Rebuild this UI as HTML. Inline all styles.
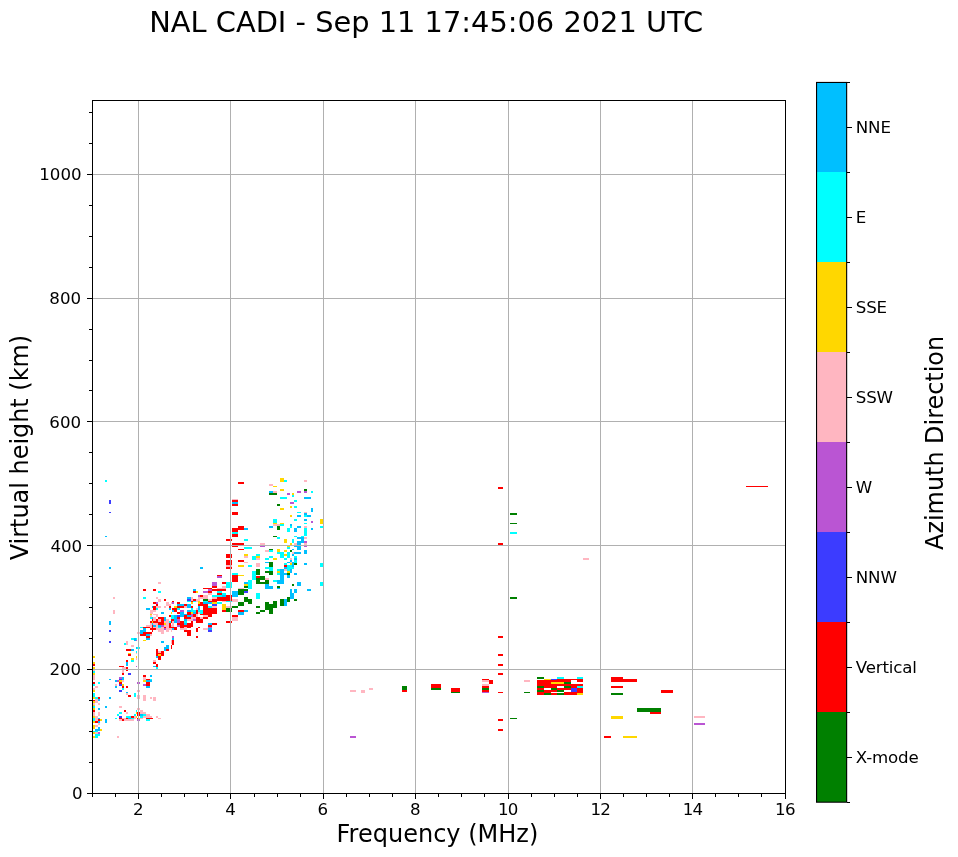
<!DOCTYPE html>
<html lang="en"><head><meta charset="utf-8"><title>NAL CADI - Sep 11 17:45:06 2021 UTC</title>
<style>html,body{margin:0;padding:0;background:#fff}body{width:958px;height:857px;overflow:hidden}svg{display:block}text{font-family:"DejaVu Sans","Liberation Sans",sans-serif;fill:#000}.t{font-size:16.67px}.l{font-size:24px}.h{font-size:28.87px}</style></head><body>
<svg width="958" height="857" viewBox="0 0 958 857">
<rect width="958" height="857" fill="#fff"/>
<g shape-rendering="crispEdges">
<rect x="238" y="482" width="6" height="2" fill="#ff0000"/>
<rect x="280" y="478" width="4" height="4" fill="#ffd700"/>
<rect x="284" y="480" width="3" height="2" fill="#00ffff"/>
<rect x="304" y="480" width="3" height="2" fill="#ffb6c1"/>
<rect x="269" y="484" width="4" height="2" fill="#ffb6c1"/>
<rect x="273" y="486" width="4" height="1" fill="#ffd700"/>
<rect x="105" y="480" width="2" height="2" fill="#00ffff"/>
<rect x="109" y="500" width="2" height="4" fill="#3c3cff"/>
<rect x="109" y="512" width="2" height="1" fill="#3c3cff"/>
<rect x="105" y="536" width="2" height="1" fill="#00bfff"/>
<rect x="232" y="499" width="6" height="1" fill="#ffb6c1"/>
<rect x="232" y="500" width="6" height="2" fill="#ff0000"/>
<rect x="232" y="502" width="6" height="2" fill="#00bfff"/>
<rect x="232" y="504" width="6" height="2" fill="#ff0000"/>
<rect x="232" y="512" width="6" height="3" fill="#ff0000"/>
<rect x="238" y="526" width="6" height="4" fill="#ff0000"/>
<rect x="232" y="528" width="6" height="4" fill="#ff0000"/>
<rect x="244" y="528" width="4" height="2" fill="#00bfff"/>
<rect x="232" y="532" width="6" height="2" fill="#00ffff"/>
<rect x="232" y="534" width="6" height="3" fill="#ff0000"/>
<rect x="226" y="539" width="6" height="2" fill="#ff0000"/>
<rect x="244" y="539" width="4" height="2" fill="#00ffff"/>
<rect x="269" y="491" width="1" height="2" fill="#00bfff"/>
<rect x="269" y="493" width="1" height="2" fill="#008000"/>
<rect x="269" y="526" width="1" height="2" fill="#00bfff"/>
<rect x="280" y="489" width="4" height="2" fill="#ffd700"/>
<rect x="304" y="489" width="3" height="2" fill="#008000"/>
<rect x="270" y="491" width="3" height="2" fill="#00bfff"/>
<rect x="273" y="491" width="4" height="2" fill="#ffb6c1"/>
<rect x="270" y="493" width="7" height="2" fill="#008000"/>
<rect x="297" y="491" width="4" height="2" fill="#ba55d3"/>
<rect x="304" y="491" width="3" height="2" fill="#ba55d3"/>
<rect x="311" y="491" width="2" height="2" fill="#00ffff"/>
<rect x="287" y="493" width="3" height="2" fill="#ba55d3"/>
<rect x="292" y="493" width="2" height="2" fill="#ffd700"/>
<rect x="292" y="495" width="2" height="2" fill="#00ffff"/>
<rect x="280" y="497" width="7" height="2" fill="#00ffff"/>
<rect x="304" y="497" width="7" height="2" fill="#00bfff"/>
<rect x="294" y="500" width="3" height="2" fill="#00ffff"/>
<rect x="290" y="502" width="4" height="2" fill="#ba55d3"/>
<rect x="277" y="504" width="3" height="2" fill="#008000"/>
<rect x="290" y="506" width="2" height="2" fill="#ffd700"/>
<rect x="294" y="506" width="3" height="2" fill="#00ffff"/>
<rect x="280" y="508" width="4" height="2" fill="#ffd700"/>
<rect x="311" y="508" width="2" height="4" fill="#00bfff"/>
<rect x="297" y="512" width="4" height="1" fill="#00ffff"/>
<rect x="304" y="512" width="3" height="1" fill="#ffb6c1"/>
<rect x="304" y="513" width="3" height="2" fill="#00bfff"/>
<rect x="290" y="515" width="2" height="2" fill="#ffd700"/>
<rect x="297" y="515" width="4" height="2" fill="#00bfff"/>
<rect x="304" y="515" width="3" height="2" fill="#00ffff"/>
<rect x="307" y="515" width="4" height="2" fill="#00bfff"/>
<rect x="273" y="519" width="4" height="4" fill="#00ffff"/>
<rect x="294" y="519" width="3" height="2" fill="#00ffff"/>
<rect x="304" y="519" width="3" height="2" fill="#00bfff"/>
<rect x="320" y="519" width="3" height="5" fill="#ffd700"/>
<rect x="311" y="521" width="2" height="2" fill="#ba55d3"/>
<rect x="273" y="523" width="4" height="1" fill="#ffd700"/>
<rect x="280" y="523" width="4" height="1" fill="#ffd700"/>
<rect x="304" y="523" width="3" height="1" fill="#00ffff"/>
<rect x="273" y="524" width="7" height="2" fill="#ffb6c1"/>
<rect x="280" y="524" width="4" height="2" fill="#00ffff"/>
<rect x="290" y="524" width="2" height="2" fill="#00bfff"/>
<rect x="270" y="526" width="3" height="2" fill="#00bfff"/>
<rect x="277" y="526" width="3" height="4" fill="#008000"/>
<rect x="290" y="526" width="2" height="2" fill="#00ffff"/>
<rect x="297" y="526" width="4" height="2" fill="#00bfff"/>
<rect x="304" y="526" width="3" height="2" fill="#ffb6c1"/>
<rect x="320" y="526" width="3" height="2" fill="#00ffff"/>
<rect x="287" y="528" width="3" height="4" fill="#00ffff"/>
<rect x="294" y="528" width="3" height="4" fill="#00bfff"/>
<rect x="304" y="528" width="3" height="8" fill="#00ffff"/>
<rect x="311" y="528" width="2" height="2" fill="#00bfff"/>
<rect x="273" y="536" width="4" height="1" fill="#008000"/>
<rect x="294" y="536" width="3" height="1" fill="#00ffff"/>
<rect x="301" y="536" width="3" height="1" fill="#00ffff"/>
<rect x="277" y="537" width="3" height="2" fill="#00ffff"/>
<rect x="297" y="537" width="7" height="2" fill="#00bfff"/>
<rect x="304" y="537" width="3" height="2" fill="#ffb6c1"/>
<rect x="284" y="539" width="3" height="2" fill="#ffd700"/>
<rect x="292" y="539" width="2" height="2" fill="#00ffff"/>
<rect x="301" y="539" width="3" height="2" fill="#00bfff"/>
<rect x="232" y="543" width="12" height="2" fill="#ff0000"/>
<rect x="232" y="546" width="6" height="1" fill="#ff0000"/>
<rect x="238" y="549" width="6" height="1" fill="#ff0000"/>
<rect x="244" y="547" width="8" height="2" fill="#00ffff"/>
<rect x="260" y="543" width="5" height="2" fill="#ffb6c1"/>
<rect x="260" y="546" width="5" height="1" fill="#ba55d3"/>
<rect x="269" y="549" width="1" height="1" fill="#008000"/>
<rect x="265" y="550" width="4" height="2" fill="#ffb6c1"/>
<rect x="269" y="550" width="1" height="2" fill="#00ffff"/>
<rect x="226" y="554" width="6" height="4" fill="#ff0000"/>
<rect x="244" y="554" width="4" height="2" fill="#ffd700"/>
<rect x="244" y="556" width="4" height="2" fill="#ffb6c1"/>
<rect x="256" y="554" width="4" height="2" fill="#00ffff"/>
<rect x="256" y="556" width="4" height="2" fill="#ffd700"/>
<rect x="256" y="558" width="4" height="2" fill="#ffb6c1"/>
<rect x="252" y="556" width="4" height="4" fill="#00ffff"/>
<rect x="269" y="556" width="1" height="2" fill="#00ffff"/>
<rect x="265" y="558" width="4" height="2" fill="#00ffff"/>
<rect x="226" y="560" width="6" height="5" fill="#ff0000"/>
<rect x="226" y="565" width="6" height="2" fill="#ffb6c1"/>
<rect x="226" y="567" width="6" height="2" fill="#ff0000"/>
<rect x="238" y="560" width="6" height="2" fill="#ff0000"/>
<rect x="244" y="562" width="4" height="1" fill="#ffb6c1"/>
<rect x="238" y="565" width="6" height="2" fill="#ffd700"/>
<rect x="248" y="565" width="4" height="2" fill="#00ffff"/>
<rect x="256" y="563" width="4" height="4" fill="#ffb6c1"/>
<rect x="265" y="562" width="4" height="1" fill="#00bfff"/>
<rect x="269" y="562" width="1" height="5" fill="#008000"/>
<rect x="265" y="567" width="4" height="2" fill="#00ffff"/>
<rect x="269" y="567" width="1" height="4" fill="#00ffff"/>
<rect x="265" y="571" width="4" height="2" fill="#008000"/>
<rect x="269" y="571" width="1" height="4" fill="#008000"/>
<rect x="256" y="569" width="4" height="6" fill="#008000"/>
<rect x="252" y="571" width="4" height="9" fill="#00ffff"/>
<rect x="232" y="573" width="6" height="2" fill="#00ffff"/>
<rect x="232" y="575" width="6" height="7" fill="#ff0000"/>
<rect x="238" y="575" width="6" height="1" fill="#ffd700"/>
<rect x="217" y="575" width="5" height="1" fill="#ff0000"/>
<rect x="217" y="576" width="5" height="2" fill="#ba55d3"/>
<rect x="256" y="576" width="4" height="2" fill="#ff0000"/>
<rect x="260" y="576" width="5" height="4" fill="#008000"/>
<rect x="256" y="578" width="4" height="6" fill="#008000"/>
<rect x="260" y="582" width="5" height="2" fill="#008000"/>
<rect x="265" y="578" width="4" height="2" fill="#ffb6c1"/>
<rect x="265" y="580" width="4" height="4" fill="#008000"/>
<rect x="265" y="584" width="4" height="5" fill="#00bfff"/>
<rect x="269" y="586" width="1" height="3" fill="#00bfff"/>
<rect x="248" y="580" width="4" height="9" fill="#00ffff"/>
<rect x="212" y="582" width="5" height="4" fill="#ba55d3"/>
<rect x="222" y="582" width="4" height="2" fill="#ff0000"/>
<rect x="226" y="582" width="6" height="6" fill="#00ffff"/>
<rect x="244" y="582" width="4" height="2" fill="#00bfff"/>
<rect x="244" y="584" width="4" height="2" fill="#ffd700"/>
<rect x="244" y="586" width="4" height="2" fill="#008000"/>
<rect x="212" y="586" width="5" height="2" fill="#ff0000"/>
<rect x="222" y="586" width="4" height="2" fill="#ffb6c1"/>
<rect x="238" y="588" width="6" height="1" fill="#ffb6c1"/>
<rect x="217" y="588" width="9" height="1" fill="#ffb6c1"/>
<rect x="210" y="588" width="2" height="1" fill="#ff0000"/>
<rect x="210" y="589" width="2" height="2" fill="#ba55d3"/>
<rect x="212" y="589" width="14" height="2" fill="#ff0000"/>
<rect x="210" y="591" width="2" height="2" fill="#ff0000"/>
<rect x="217" y="591" width="5" height="2" fill="#00ffff"/>
<rect x="217" y="593" width="5" height="1" fill="#ff0000"/>
<rect x="222" y="593" width="4" height="1" fill="#00ffff"/>
<rect x="210" y="593" width="2" height="1" fill="#ffb6c1"/>
<rect x="238" y="589" width="10" height="2" fill="#008000"/>
<rect x="238" y="591" width="6" height="3" fill="#008000"/>
<rect x="244" y="591" width="4" height="2" fill="#3c3cff"/>
<rect x="232" y="591" width="6" height="3" fill="#00bfff"/>
<rect x="256" y="593" width="4" height="1" fill="#00ffff"/>
<rect x="284" y="541" width="3" height="2" fill="#ffd700"/>
<rect x="292" y="541" width="2" height="2" fill="#00ffff"/>
<rect x="297" y="541" width="3" height="9" fill="#00bfff"/>
<rect x="290" y="543" width="2" height="2" fill="#ffd700"/>
<rect x="294" y="543" width="3" height="2" fill="#ffb6c1"/>
<rect x="294" y="546" width="3" height="1" fill="#00bfff"/>
<rect x="287" y="546" width="3" height="1" fill="#ffd700"/>
<rect x="287" y="547" width="3" height="2" fill="#00ffff"/>
<rect x="292" y="549" width="2" height="1" fill="#00bfff"/>
<rect x="270" y="549" width="3" height="1" fill="#008000"/>
<rect x="270" y="550" width="3" height="2" fill="#00ffff"/>
<rect x="277" y="549" width="3" height="3" fill="#ffd700"/>
<rect x="284" y="550" width="3" height="2" fill="#ffd700"/>
<rect x="290" y="550" width="2" height="2" fill="#008000"/>
<rect x="277" y="552" width="7" height="2" fill="#00ffff"/>
<rect x="280" y="554" width="4" height="4" fill="#00ffff"/>
<rect x="287" y="552" width="3" height="6" fill="#00ffff"/>
<rect x="284" y="554" width="3" height="2" fill="#ffd700"/>
<rect x="292" y="552" width="2" height="2" fill="#ffb6c1"/>
<rect x="294" y="552" width="6" height="2" fill="#00bfff"/>
<rect x="292" y="554" width="2" height="2" fill="#00bfff"/>
<rect x="270" y="556" width="3" height="2" fill="#00ffff"/>
<rect x="273" y="558" width="4" height="2" fill="#ffd700"/>
<rect x="284" y="558" width="3" height="2" fill="#00ffff"/>
<rect x="290" y="558" width="2" height="2" fill="#ffb6c1"/>
<rect x="294" y="556" width="3" height="2" fill="#00ffff"/>
<rect x="294" y="558" width="3" height="2" fill="#00bfff"/>
<rect x="294" y="560" width="3" height="3" fill="#00ffff"/>
<rect x="294" y="563" width="3" height="2" fill="#008000"/>
<rect x="290" y="560" width="2" height="2" fill="#00bfff"/>
<rect x="287" y="562" width="3" height="1" fill="#00bfff"/>
<rect x="290" y="562" width="2" height="1" fill="#ffb6c1"/>
<rect x="290" y="563" width="2" height="2" fill="#ffd700"/>
<rect x="292" y="562" width="2" height="5" fill="#00bfff"/>
<rect x="284" y="563" width="3" height="2" fill="#00ffff"/>
<rect x="284" y="565" width="3" height="2" fill="#ff0000"/>
<rect x="287" y="565" width="5" height="3" fill="#00ffff"/>
<rect x="284" y="567" width="3" height="1" fill="#00bfff"/>
<rect x="270" y="562" width="3" height="5" fill="#008000"/>
<rect x="270" y="567" width="3" height="1" fill="#00ffff"/>
<rect x="300" y="541" width="4" height="2" fill="#00bfff"/>
<rect x="300" y="543" width="1" height="7" fill="#00bfff"/>
<rect x="304" y="541" width="3" height="2" fill="#ba55d3"/>
<rect x="304" y="543" width="3" height="2" fill="#ffb6c1"/>
<rect x="304" y="546" width="3" height="1" fill="#ba55d3"/>
<rect x="304" y="550" width="3" height="4" fill="#00bfff"/>
<rect x="300" y="552" width="1" height="2" fill="#00bfff"/>
<rect x="304" y="563" width="3" height="2" fill="#00bfff"/>
<rect x="320" y="563" width="3" height="4" fill="#00ffff"/>
<rect x="270" y="567" width="3" height="4" fill="#00ffff"/>
<rect x="270" y="571" width="3" height="4" fill="#008000"/>
<rect x="277" y="569" width="3" height="2" fill="#00ffff"/>
<rect x="277" y="571" width="3" height="2" fill="#ffd700"/>
<rect x="277" y="573" width="3" height="2" fill="#00ffff"/>
<rect x="280" y="569" width="4" height="15" fill="#00bfff"/>
<rect x="284" y="567" width="3" height="2" fill="#00bfff"/>
<rect x="284" y="569" width="3" height="2" fill="#ffb6c1"/>
<rect x="284" y="573" width="3" height="2" fill="#00bfff"/>
<rect x="287" y="567" width="7" height="2" fill="#00ffff"/>
<rect x="287" y="569" width="3" height="2" fill="#00ffff"/>
<rect x="287" y="571" width="3" height="2" fill="#ffd700"/>
<rect x="287" y="573" width="3" height="2" fill="#008000"/>
<rect x="287" y="575" width="3" height="3" fill="#00bfff"/>
<rect x="290" y="569" width="2" height="4" fill="#00bfff"/>
<rect x="294" y="573" width="3" height="2" fill="#00bfff"/>
<rect x="273" y="580" width="4" height="2" fill="#00ffff"/>
<rect x="277" y="580" width="3" height="4" fill="#00bfff"/>
<rect x="297" y="582" width="3" height="4" fill="#00bfff"/>
<rect x="292" y="584" width="2" height="2" fill="#008000"/>
<rect x="270" y="586" width="3" height="3" fill="#00bfff"/>
<rect x="277" y="586" width="3" height="2" fill="#008000"/>
<rect x="277" y="588" width="3" height="1" fill="#00bfff"/>
<rect x="290" y="589" width="2" height="5" fill="#00bfff"/>
<rect x="294" y="589" width="3" height="4" fill="#00bfff"/>
<rect x="292" y="593" width="2" height="1" fill="#00bfff"/>
<rect x="300" y="582" width="1" height="4" fill="#00bfff"/>
<rect x="307" y="589" width="4" height="2" fill="#00bfff"/>
<rect x="320" y="582" width="3" height="4" fill="#00ffff"/>
<rect x="109" y="567" width="2" height="2" fill="#00bfff"/>
<rect x="143" y="589" width="3" height="2" fill="#ff0000"/>
<rect x="200" y="567" width="3" height="2" fill="#00bfff"/>
<rect x="158" y="582" width="3" height="2" fill="#ffb6c1"/>
<rect x="153" y="589" width="3" height="2" fill="#ff0000"/>
<rect x="158" y="591" width="3" height="2" fill="#00ffff"/>
<rect x="193" y="589" width="3" height="2" fill="#00bfff"/>
<rect x="193" y="591" width="3" height="2" fill="#ff0000"/>
<rect x="196" y="591" width="2" height="2" fill="#ffd700"/>
<rect x="203" y="588" width="7" height="1" fill="#ff0000"/>
<rect x="208" y="589" width="2" height="2" fill="#ba55d3"/>
<rect x="203" y="591" width="5" height="2" fill="#ba55d3"/>
<rect x="208" y="591" width="2" height="2" fill="#ff0000"/>
<rect x="208" y="593" width="2" height="1" fill="#ffb6c1"/>
<rect x="113" y="597" width="2" height="2" fill="#ffb6c1"/>
<rect x="113" y="610" width="2" height="4" fill="#ffb6c1"/>
<rect x="109" y="621" width="2" height="4" fill="#00bfff"/>
<rect x="109" y="630" width="2" height="2" fill="#3c3cff"/>
<rect x="109" y="641" width="2" height="2" fill="#3c3cff"/>
<rect x="143" y="597" width="3" height="2" fill="#00ffff"/>
<rect x="146" y="608" width="4" height="2" fill="#00bfff"/>
<rect x="146" y="625" width="4" height="2" fill="#ffb6c1"/>
<rect x="140" y="627" width="3" height="1" fill="#00ffff"/>
<rect x="143" y="627" width="7" height="1" fill="#ff0000"/>
<rect x="143" y="628" width="3" height="4" fill="#00bfff"/>
<rect x="140" y="630" width="3" height="4" fill="#00bfff"/>
<rect x="137" y="632" width="3" height="2" fill="#ffb6c1"/>
<rect x="143" y="632" width="7" height="2" fill="#ff0000"/>
<rect x="140" y="634" width="6" height="2" fill="#ff0000"/>
<rect x="146" y="634" width="4" height="2" fill="#00bfff"/>
<rect x="146" y="636" width="4" height="2" fill="#ff0000"/>
<rect x="146" y="638" width="4" height="2" fill="#00bfff"/>
<rect x="143" y="640" width="3" height="1" fill="#ffd700"/>
<rect x="131" y="638" width="3" height="2" fill="#00ffff"/>
<rect x="134" y="638" width="2" height="3" fill="#00bfff"/>
<rect x="136" y="638" width="1" height="2" fill="#00ffff"/>
<rect x="136" y="640" width="1" height="1" fill="#ba55d3"/>
<rect x="126" y="641" width="2" height="4" fill="#ffb6c1"/>
<rect x="124" y="643" width="2" height="2" fill="#00ffff"/>
<rect x="131" y="645" width="3" height="2" fill="#ffb6c1"/>
<rect x="156" y="597" width="2" height="2" fill="#ffb6c1"/>
<rect x="158" y="599" width="3" height="3" fill="#ffb6c1"/>
<rect x="164" y="599" width="2" height="2" fill="#ff0000"/>
<rect x="172" y="601" width="2" height="1" fill="#ff0000"/>
<rect x="172" y="602" width="2" height="2" fill="#ba55d3"/>
<rect x="171" y="602" width="1" height="2" fill="#ffb6c1"/>
<rect x="153" y="602" width="3" height="2" fill="#ff0000"/>
<rect x="156" y="602" width="2" height="2" fill="#ba55d3"/>
<rect x="166" y="602" width="3" height="4" fill="#ffb6c1"/>
<rect x="169" y="604" width="2" height="2" fill="#ffb6c1"/>
<rect x="156" y="604" width="2" height="2" fill="#ff0000"/>
<rect x="177" y="602" width="3" height="2" fill="#ff0000"/>
<rect x="177" y="604" width="3" height="2" fill="#00bfff"/>
<rect x="152" y="606" width="1" height="2" fill="#00bfff"/>
<rect x="153" y="606" width="3" height="4" fill="#ff0000"/>
<rect x="156" y="606" width="5" height="2" fill="#ffb6c1"/>
<rect x="164" y="606" width="2" height="2" fill="#ffb6c1"/>
<rect x="169" y="606" width="2" height="2" fill="#ff0000"/>
<rect x="174" y="606" width="3" height="2" fill="#ffd700"/>
<rect x="177" y="606" width="3" height="2" fill="#ff0000"/>
<rect x="156" y="608" width="2" height="2" fill="#00ffff"/>
<rect x="169" y="608" width="2" height="2" fill="#00bfff"/>
<rect x="172" y="608" width="5" height="2" fill="#ff0000"/>
<rect x="177" y="608" width="3" height="2" fill="#00ffff"/>
<rect x="174" y="610" width="3" height="2" fill="#ff0000"/>
<rect x="172" y="610" width="2" height="2" fill="#00bfff"/>
<rect x="150" y="610" width="3" height="4" fill="#ffb6c1"/>
<rect x="153" y="610" width="3" height="2" fill="#ffb6c1"/>
<rect x="161" y="612" width="3" height="2" fill="#00bfff"/>
<rect x="171" y="612" width="1" height="2" fill="#ffd700"/>
<rect x="177" y="612" width="3" height="2" fill="#ff0000"/>
<rect x="150" y="614" width="2" height="1" fill="#ffd700"/>
<rect x="150" y="615" width="2" height="2" fill="#ffb6c1"/>
<rect x="153" y="614" width="5" height="1" fill="#ffb6c1"/>
<rect x="156" y="615" width="2" height="2" fill="#ffb6c1"/>
<rect x="169" y="615" width="2" height="2" fill="#ff0000"/>
<rect x="171" y="615" width="3" height="4" fill="#00ffff"/>
<rect x="174" y="615" width="3" height="6" fill="#00bfff"/>
<rect x="177" y="615" width="3" height="2" fill="#3c3cff"/>
<rect x="177" y="617" width="3" height="2" fill="#ff0000"/>
<rect x="177" y="619" width="3" height="2" fill="#ba55d3"/>
<rect x="150" y="617" width="2" height="2" fill="#00ffff"/>
<rect x="152" y="617" width="1" height="2" fill="#00bfff"/>
<rect x="153" y="617" width="3" height="4" fill="#ffb6c1"/>
<rect x="152" y="619" width="1" height="2" fill="#ff0000"/>
<rect x="156" y="619" width="2" height="2" fill="#ff0000"/>
<rect x="158" y="617" width="6" height="4" fill="#ff0000"/>
<rect x="158" y="619" width="3" height="2" fill="#ffb6c1"/>
<rect x="164" y="617" width="2" height="4" fill="#00bfff"/>
<rect x="166" y="619" width="3" height="2" fill="#ffb6c1"/>
<rect x="171" y="619" width="3" height="2" fill="#ff0000"/>
<rect x="198" y="595" width="2" height="2" fill="#ba55d3"/>
<rect x="200" y="595" width="3" height="2" fill="#ff0000"/>
<rect x="203" y="595" width="5" height="4" fill="#ffb6c1"/>
<rect x="198" y="597" width="5" height="2" fill="#ffb6c1"/>
<rect x="208" y="594" width="2" height="1" fill="#ffb6c1"/>
<rect x="187" y="597" width="4" height="2" fill="#00bfff"/>
<rect x="187" y="599" width="4" height="2" fill="#3c3cff"/>
<rect x="187" y="601" width="4" height="1" fill="#00ffff"/>
<rect x="191" y="597" width="2" height="4" fill="#ffb6c1"/>
<rect x="191" y="601" width="2" height="1" fill="#ff0000"/>
<rect x="191" y="602" width="2" height="2" fill="#ffd700"/>
<rect x="193" y="599" width="3" height="2" fill="#ff0000"/>
<rect x="193" y="601" width="3" height="1" fill="#00ffff"/>
<rect x="196" y="599" width="2" height="3" fill="#ffb6c1"/>
<rect x="198" y="599" width="2" height="2" fill="#ffb6c1"/>
<rect x="198" y="601" width="2" height="3" fill="#ffd700"/>
<rect x="203" y="599" width="5" height="2" fill="#008000"/>
<rect x="203" y="601" width="5" height="1" fill="#00ffff"/>
<rect x="203" y="602" width="7" height="2" fill="#00bfff"/>
<rect x="208" y="599" width="2" height="2" fill="#ffb6c1"/>
<rect x="208" y="601" width="2" height="1" fill="#ff0000"/>
<rect x="200" y="602" width="3" height="4" fill="#ff0000"/>
<rect x="198" y="604" width="2" height="2" fill="#ff0000"/>
<rect x="203" y="604" width="5" height="11" fill="#ff0000"/>
<rect x="208" y="606" width="2" height="2" fill="#00ffff"/>
<rect x="208" y="608" width="2" height="9" fill="#ff0000"/>
<rect x="203" y="615" width="5" height="2" fill="#ffb6c1"/>
<rect x="203" y="617" width="5" height="2" fill="#ff0000"/>
<rect x="180" y="604" width="4" height="2" fill="#00bfff"/>
<rect x="184" y="604" width="3" height="2" fill="#ff0000"/>
<rect x="187" y="604" width="4" height="4" fill="#00bfff"/>
<rect x="180" y="606" width="4" height="2" fill="#ff0000"/>
<rect x="184" y="606" width="3" height="2" fill="#ffb6c1"/>
<rect x="191" y="606" width="2" height="2" fill="#ff0000"/>
<rect x="198" y="606" width="2" height="4" fill="#00bfff"/>
<rect x="191" y="608" width="2" height="4" fill="#00ffff"/>
<rect x="196" y="608" width="2" height="2" fill="#ffb6c1"/>
<rect x="180" y="610" width="4" height="2" fill="#ba55d3"/>
<rect x="187" y="610" width="4" height="2" fill="#00bfff"/>
<rect x="193" y="610" width="3" height="2" fill="#00ffff"/>
<rect x="196" y="610" width="2" height="4" fill="#ff0000"/>
<rect x="198" y="610" width="5" height="2" fill="#00ffff"/>
<rect x="200" y="612" width="3" height="2" fill="#00ffff"/>
<rect x="198" y="612" width="2" height="2" fill="#ffb6c1"/>
<rect x="180" y="612" width="4" height="5" fill="#00bfff"/>
<rect x="184" y="614" width="3" height="1" fill="#00bfff"/>
<rect x="187" y="612" width="4" height="3" fill="#ff0000"/>
<rect x="191" y="612" width="2" height="2" fill="#ffd700"/>
<rect x="193" y="612" width="3" height="2" fill="#00bfff"/>
<rect x="191" y="614" width="2" height="3" fill="#ba55d3"/>
<rect x="193" y="614" width="3" height="3" fill="#ff0000"/>
<rect x="196" y="614" width="2" height="3" fill="#ffb6c1"/>
<rect x="200" y="614" width="3" height="1" fill="#ff0000"/>
<rect x="184" y="615" width="3" height="4" fill="#ff0000"/>
<rect x="187" y="615" width="4" height="2" fill="#00bfff"/>
<rect x="187" y="617" width="4" height="2" fill="#ff0000"/>
<rect x="191" y="617" width="5" height="2" fill="#ffb6c1"/>
<rect x="196" y="617" width="4" height="4" fill="#ff0000"/>
<rect x="200" y="617" width="3" height="2" fill="#ffb6c1"/>
<rect x="200" y="619" width="3" height="2" fill="#ff0000"/>
<rect x="184" y="619" width="3" height="2" fill="#00bfff"/>
<rect x="187" y="619" width="6" height="2" fill="#ffb6c1"/>
<rect x="193" y="619" width="3" height="2" fill="#ba55d3"/>
<rect x="150" y="621" width="2" height="2" fill="#ff0000"/>
<rect x="152" y="621" width="1" height="2" fill="#ffd700"/>
<rect x="153" y="621" width="5" height="2" fill="#ff0000"/>
<rect x="158" y="621" width="3" height="1" fill="#ffb6c1"/>
<rect x="158" y="622" width="3" height="1" fill="#ff0000"/>
<rect x="161" y="621" width="3" height="2" fill="#ff0000"/>
<rect x="164" y="621" width="5" height="2" fill="#ffb6c1"/>
<rect x="169" y="621" width="2" height="2" fill="#00ffff"/>
<rect x="171" y="620" width="1" height="3" fill="#ff0000"/>
<rect x="172" y="621" width="2" height="2" fill="#ffb6c1"/>
<rect x="174" y="621" width="3" height="2" fill="#00bfff"/>
<rect x="177" y="621" width="3" height="2" fill="#ba55d3"/>
<rect x="150" y="623" width="2" height="5" fill="#ffb6c1"/>
<rect x="152" y="623" width="1" height="2" fill="#00bfff"/>
<rect x="153" y="623" width="5" height="2" fill="#ffb6c1"/>
<rect x="158" y="623" width="6" height="2" fill="#ff0000"/>
<rect x="164" y="623" width="2" height="2" fill="#ffd700"/>
<rect x="166" y="623" width="3" height="2" fill="#ffb6c1"/>
<rect x="169" y="623" width="2" height="5" fill="#ff0000"/>
<rect x="172" y="623" width="2" height="4" fill="#ffb6c1"/>
<rect x="171" y="625" width="1" height="2" fill="#ffb6c1"/>
<rect x="177" y="623" width="3" height="2" fill="#ff0000"/>
<rect x="152" y="625" width="1" height="3" fill="#ff0000"/>
<rect x="153" y="625" width="3" height="2" fill="#00bfff"/>
<rect x="156" y="625" width="2" height="2" fill="#ffb6c1"/>
<rect x="158" y="625" width="3" height="2" fill="#00bfff"/>
<rect x="161" y="625" width="3" height="2" fill="#ba55d3"/>
<rect x="164" y="625" width="5" height="2" fill="#ffb6c1"/>
<rect x="177" y="625" width="3" height="2" fill="#ba55d3"/>
<rect x="153" y="627" width="5" height="1" fill="#ffb6c1"/>
<rect x="158" y="627" width="3" height="1" fill="#00ffff"/>
<rect x="161" y="627" width="3" height="1" fill="#ffb6c1"/>
<rect x="164" y="627" width="2" height="1" fill="#ff0000"/>
<rect x="166" y="627" width="3" height="1" fill="#ffb6c1"/>
<rect x="171" y="627" width="6" height="1" fill="#ff0000"/>
<rect x="150" y="628" width="6" height="2" fill="#ff0000"/>
<rect x="156" y="628" width="8" height="2" fill="#ffb6c1"/>
<rect x="164" y="628" width="2" height="2" fill="#ba55d3"/>
<rect x="166" y="628" width="6" height="2" fill="#ffb6c1"/>
<rect x="172" y="628" width="2" height="2" fill="#00bfff"/>
<rect x="174" y="628" width="3" height="2" fill="#ff0000"/>
<rect x="152" y="630" width="1" height="2" fill="#ff0000"/>
<rect x="158" y="630" width="6" height="2" fill="#ffb6c1"/>
<rect x="166" y="630" width="3" height="2" fill="#ffb6c1"/>
<rect x="171" y="630" width="1" height="2" fill="#ffb6c1"/>
<rect x="150" y="632" width="2" height="2" fill="#ff0000"/>
<rect x="161" y="632" width="3" height="2" fill="#ffb6c1"/>
<rect x="150" y="634" width="2" height="2" fill="#ffb6c1"/>
<rect x="172" y="636" width="2" height="2" fill="#ba55d3"/>
<rect x="172" y="638" width="2" height="2" fill="#00bfff"/>
<rect x="172" y="640" width="2" height="5" fill="#ff0000"/>
<rect x="171" y="640" width="1" height="4" fill="#ffb6c1"/>
<rect x="161" y="641" width="3" height="2" fill="#00bfff"/>
<rect x="166" y="645" width="3" height="2" fill="#00bfff"/>
<rect x="171" y="645" width="1" height="2" fill="#ff0000"/>
<rect x="180" y="621" width="4" height="7" fill="#ff0000"/>
<rect x="184" y="621" width="3" height="2" fill="#00ffff"/>
<rect x="184" y="623" width="3" height="2" fill="#00bfff"/>
<rect x="191" y="621" width="2" height="6" fill="#ff0000"/>
<rect x="187" y="623" width="4" height="5" fill="#ff0000"/>
<rect x="184" y="625" width="3" height="2" fill="#ff0000"/>
<rect x="184" y="627" width="3" height="1" fill="#ffb6c1"/>
<rect x="196" y="621" width="7" height="2" fill="#ff0000"/>
<rect x="208" y="623" width="2" height="2" fill="#00bfff"/>
<rect x="208" y="625" width="2" height="2" fill="#ff0000"/>
<rect x="208" y="627" width="2" height="1" fill="#ba55d3"/>
<rect x="208" y="628" width="2" height="2" fill="#00bfff"/>
<rect x="208" y="630" width="2" height="2" fill="#3c3cff"/>
<rect x="203" y="628" width="5" height="2" fill="#ffb6c1"/>
<rect x="180" y="628" width="7" height="2" fill="#ffb6c1"/>
<rect x="198" y="627" width="2" height="1" fill="#ff0000"/>
<rect x="196" y="628" width="2" height="4" fill="#ff0000"/>
<rect x="184" y="630" width="7" height="2" fill="#ff0000"/>
<rect x="187" y="632" width="4" height="4" fill="#ff0000"/>
<rect x="196" y="636" width="2" height="2" fill="#ff0000"/>
<rect x="210" y="594" width="2" height="1" fill="#ffb6c1"/>
<rect x="217" y="594" width="5" height="1" fill="#ff0000"/>
<rect x="222" y="594" width="4" height="1" fill="#00ffff"/>
<rect x="232" y="594" width="6" height="3" fill="#00bfff"/>
<rect x="238" y="594" width="6" height="1" fill="#008000"/>
<rect x="212" y="595" width="10" height="2" fill="#00ffff"/>
<rect x="222" y="595" width="4" height="2" fill="#00bfff"/>
<rect x="226" y="595" width="6" height="6" fill="#ff0000"/>
<rect x="212" y="597" width="5" height="2" fill="#ffb6c1"/>
<rect x="217" y="597" width="9" height="4" fill="#ff0000"/>
<rect x="210" y="599" width="2" height="2" fill="#ffb6c1"/>
<rect x="212" y="599" width="5" height="3" fill="#ff0000"/>
<rect x="210" y="601" width="2" height="1" fill="#ff0000"/>
<rect x="222" y="601" width="4" height="1" fill="#ffb6c1"/>
<rect x="226" y="601" width="6" height="1" fill="#00ffff"/>
<rect x="232" y="599" width="6" height="3" fill="#ffb6c1"/>
<rect x="244" y="597" width="4" height="5" fill="#008000"/>
<rect x="248" y="599" width="4" height="5" fill="#008000"/>
<rect x="238" y="602" width="6" height="4" fill="#008000"/>
<rect x="256" y="594" width="4" height="5" fill="#00ffff"/>
<rect x="210" y="602" width="2" height="2" fill="#00bfff"/>
<rect x="212" y="602" width="5" height="2" fill="#ffd700"/>
<rect x="217" y="602" width="5" height="2" fill="#00ffff"/>
<rect x="212" y="604" width="5" height="2" fill="#3c3cff"/>
<rect x="222" y="604" width="4" height="6" fill="#ffd700"/>
<rect x="210" y="606" width="2" height="2" fill="#00ffff"/>
<rect x="212" y="606" width="5" height="2" fill="#ffb6c1"/>
<rect x="226" y="606" width="6" height="2" fill="#ffb6c1"/>
<rect x="232" y="606" width="6" height="2" fill="#008000"/>
<rect x="226" y="608" width="6" height="4" fill="#008000"/>
<rect x="210" y="608" width="7" height="6" fill="#ff0000"/>
<rect x="222" y="610" width="4" height="2" fill="#ff0000"/>
<rect x="210" y="614" width="2" height="3" fill="#ff0000"/>
<rect x="238" y="610" width="6" height="2" fill="#ff0000"/>
<rect x="244" y="610" width="4" height="2" fill="#00bfff"/>
<rect x="238" y="612" width="6" height="3" fill="#00bfff"/>
<rect x="232" y="615" width="6" height="2" fill="#ff0000"/>
<rect x="232" y="617" width="6" height="4" fill="#ffb6c1"/>
<rect x="226" y="621" width="6" height="2" fill="#ff0000"/>
<rect x="210" y="623" width="2" height="2" fill="#00bfff"/>
<rect x="212" y="623" width="5" height="2" fill="#ff0000"/>
<rect x="210" y="625" width="2" height="2" fill="#ff0000"/>
<rect x="210" y="627" width="2" height="1" fill="#ba55d3"/>
<rect x="210" y="628" width="2" height="2" fill="#00bfff"/>
<rect x="210" y="630" width="2" height="2" fill="#3c3cff"/>
<rect x="256" y="606" width="4" height="2" fill="#008000"/>
<rect x="256" y="612" width="4" height="2" fill="#008000"/>
<rect x="260" y="610" width="5" height="2" fill="#008000"/>
<rect x="265" y="602" width="4" height="8" fill="#008000"/>
<rect x="269" y="604" width="1" height="10" fill="#008000"/>
<rect x="270" y="604" width="3" height="10" fill="#008000"/>
<rect x="273" y="601" width="4" height="7" fill="#008000"/>
<rect x="280" y="599" width="4" height="7" fill="#008000"/>
<rect x="284" y="599" width="3" height="7" fill="#00bfff"/>
<rect x="287" y="597" width="3" height="5" fill="#008000"/>
<rect x="290" y="594" width="4" height="5" fill="#00bfff"/>
<rect x="294" y="599" width="3" height="2" fill="#008000"/>
<rect x="93" y="656" width="2" height="2" fill="#ffd700"/>
<rect x="93" y="662" width="2" height="2" fill="#ffd700"/>
<rect x="93" y="664" width="2" height="2" fill="#ff0000"/>
<rect x="93" y="667" width="2" height="2" fill="#ffd700"/>
<rect x="93" y="670" width="2" height="1" fill="#ffb6c1"/>
<rect x="93" y="671" width="2" height="2" fill="#00ffff"/>
<rect x="93" y="673" width="2" height="2" fill="#ffd700"/>
<rect x="93" y="675" width="2" height="5" fill="#ffb6c1"/>
<rect x="93" y="682" width="2" height="2" fill="#ff0000"/>
<rect x="93" y="684" width="2" height="2" fill="#00ffff"/>
<rect x="93" y="688" width="2" height="2" fill="#ffb6c1"/>
<rect x="93" y="690" width="2" height="2" fill="#ffd700"/>
<rect x="93" y="693" width="2" height="4" fill="#00ffff"/>
<rect x="93" y="697" width="2" height="2" fill="#ffd700"/>
<rect x="95" y="686" width="3" height="2" fill="#ffb6c1"/>
<rect x="95" y="697" width="3" height="2" fill="#00ffff"/>
<rect x="98" y="697" width="2" height="2" fill="#ff0000"/>
<rect x="95" y="699" width="3" height="1" fill="#ffb6c1"/>
<rect x="98" y="699" width="2" height="1" fill="#00bfff"/>
<rect x="98" y="682" width="2" height="2" fill="#00ffff"/>
<rect x="109" y="679" width="2" height="1" fill="#00bfff"/>
<rect x="109" y="697" width="2" height="2" fill="#00bfff"/>
<rect x="119" y="666" width="5" height="1" fill="#ff0000"/>
<rect x="122" y="667" width="4" height="2" fill="#ffb6c1"/>
<rect x="126" y="667" width="2" height="2" fill="#ff0000"/>
<rect x="126" y="670" width="2" height="1" fill="#ff0000"/>
<rect x="122" y="670" width="2" height="3" fill="#ffb6c1"/>
<rect x="122" y="673" width="2" height="2" fill="#ff0000"/>
<rect x="128" y="673" width="3" height="2" fill="#3c3cff"/>
<rect x="126" y="660" width="2" height="2" fill="#ff0000"/>
<rect x="126" y="662" width="2" height="4" fill="#00bfff"/>
<rect x="126" y="649" width="5" height="2" fill="#ff0000"/>
<rect x="131" y="649" width="3" height="2" fill="#00bfff"/>
<rect x="128" y="653" width="3" height="1" fill="#ffd700"/>
<rect x="128" y="654" width="3" height="2" fill="#ff0000"/>
<rect x="131" y="658" width="3" height="2" fill="#ffd700"/>
<rect x="131" y="660" width="3" height="2" fill="#00ffff"/>
<rect x="136" y="647" width="1" height="2" fill="#00bfff"/>
<rect x="137" y="647" width="1" height="2" fill="#00ffff"/>
<rect x="139" y="647" width="1" height="2" fill="#00ffff"/>
<rect x="136" y="651" width="1" height="2" fill="#00ffff"/>
<rect x="136" y="653" width="1" height="1" fill="#ffb6c1"/>
<rect x="136" y="656" width="1" height="2" fill="#ffd700"/>
<rect x="136" y="658" width="1" height="2" fill="#ffb6c1"/>
<rect x="136" y="666" width="1" height="1" fill="#ba55d3"/>
<rect x="119" y="677" width="3" height="2" fill="#ba55d3"/>
<rect x="122" y="677" width="2" height="3" fill="#00bfff"/>
<rect x="119" y="679" width="3" height="1" fill="#3c3cff"/>
<rect x="115" y="680" width="2" height="2" fill="#00bfff"/>
<rect x="117" y="680" width="2" height="2" fill="#ba55d3"/>
<rect x="119" y="680" width="3" height="2" fill="#ffd700"/>
<rect x="122" y="680" width="2" height="2" fill="#ffb6c1"/>
<rect x="119" y="682" width="3" height="2" fill="#ff0000"/>
<rect x="115" y="684" width="2" height="2" fill="#ffb6c1"/>
<rect x="119" y="684" width="3" height="2" fill="#3c3cff"/>
<rect x="122" y="684" width="2" height="2" fill="#ffd700"/>
<rect x="115" y="686" width="2" height="2" fill="#00bfff"/>
<rect x="122" y="686" width="2" height="2" fill="#ff0000"/>
<rect x="126" y="686" width="2" height="2" fill="#ff0000"/>
<rect x="122" y="688" width="2" height="2" fill="#00ffff"/>
<rect x="119" y="690" width="3" height="2" fill="#3c3cff"/>
<rect x="126" y="692" width="2" height="1" fill="#00bfff"/>
<rect x="126" y="693" width="2" height="2" fill="#ffb6c1"/>
<rect x="128" y="695" width="3" height="2" fill="#ff0000"/>
<rect x="134" y="693" width="2" height="4" fill="#00ffff"/>
<rect x="137" y="690" width="3" height="2" fill="#ffb6c1"/>
<rect x="137" y="695" width="3" height="4" fill="#ffb6c1"/>
<rect x="137" y="682" width="3" height="2" fill="#ba55d3"/>
<rect x="143" y="675" width="3" height="2" fill="#ff0000"/>
<rect x="143" y="677" width="3" height="3" fill="#ffb6c1"/>
<rect x="143" y="680" width="3" height="2" fill="#ffd700"/>
<rect x="143" y="684" width="3" height="2" fill="#ba55d3"/>
<rect x="143" y="695" width="3" height="5" fill="#ffb6c1"/>
<rect x="146" y="679" width="4" height="1" fill="#ff0000"/>
<rect x="146" y="680" width="4" height="2" fill="#00bfff"/>
<rect x="146" y="682" width="4" height="4" fill="#ff0000"/>
<rect x="146" y="686" width="4" height="2" fill="#00bfff"/>
<rect x="150" y="675" width="2" height="2" fill="#00bfff"/>
<rect x="150" y="679" width="2" height="1" fill="#00ffff"/>
<rect x="150" y="680" width="2" height="2" fill="#00bfff"/>
<rect x="153" y="660" width="3" height="2" fill="#ffb6c1"/>
<rect x="153" y="662" width="3" height="2" fill="#ff0000"/>
<rect x="156" y="664" width="2" height="3" fill="#ff0000"/>
<rect x="153" y="666" width="3" height="1" fill="#00bfff"/>
<rect x="156" y="667" width="2" height="2" fill="#00ffff"/>
<rect x="156" y="649" width="2" height="7" fill="#ff0000"/>
<rect x="158" y="651" width="3" height="2" fill="#ffb6c1"/>
<rect x="158" y="653" width="3" height="1" fill="#ff0000"/>
<rect x="158" y="654" width="3" height="2" fill="#ffd700"/>
<rect x="161" y="651" width="3" height="5" fill="#ff0000"/>
<rect x="156" y="656" width="2" height="2" fill="#00bfff"/>
<rect x="158" y="656" width="3" height="4" fill="#ff0000"/>
<rect x="164" y="647" width="5" height="2" fill="#00bfff"/>
<rect x="164" y="649" width="2" height="2" fill="#00bfff"/>
<rect x="166" y="649" width="3" height="2" fill="#ff0000"/>
<rect x="171" y="647" width="1" height="2" fill="#ff0000"/>
<rect x="150" y="697" width="2" height="2" fill="#ffb6c1"/>
<rect x="153" y="697" width="3" height="3" fill="#ffb6c1"/>
<rect x="93" y="700" width="2" height="1" fill="#ff0000"/>
<rect x="93" y="701" width="2" height="2" fill="#ffd700"/>
<rect x="93" y="703" width="2" height="2" fill="#ffb6c1"/>
<rect x="93" y="705" width="2" height="1" fill="#ffd700"/>
<rect x="93" y="706" width="2" height="2" fill="#00ffff"/>
<rect x="93" y="708" width="2" height="2" fill="#ffd700"/>
<rect x="93" y="710" width="2" height="2" fill="#ff0000"/>
<rect x="93" y="712" width="2" height="4" fill="#ffb6c1"/>
<rect x="93" y="716" width="2" height="2" fill="#ffd700"/>
<rect x="93" y="718" width="2" height="3" fill="#00ffff"/>
<rect x="93" y="721" width="2" height="2" fill="#ffd700"/>
<rect x="93" y="725" width="2" height="4" fill="#ffd700"/>
<rect x="93" y="731" width="5" height="1" fill="#00ffff"/>
<rect x="93" y="732" width="2" height="2" fill="#ffd700"/>
<rect x="93" y="736" width="2" height="2" fill="#ffd700"/>
<rect x="95" y="700" width="3" height="3" fill="#ffb6c1"/>
<rect x="95" y="716" width="3" height="5" fill="#ffb6c1"/>
<rect x="95" y="721" width="3" height="2" fill="#ff0000"/>
<rect x="95" y="725" width="3" height="2" fill="#ffb6c1"/>
<rect x="95" y="729" width="5" height="2" fill="#00bfff"/>
<rect x="95" y="732" width="3" height="2" fill="#ffb6c1"/>
<rect x="95" y="734" width="5" height="2" fill="#00ffff"/>
<rect x="95" y="736" width="3" height="2" fill="#00ffff"/>
<rect x="98" y="700" width="2" height="1" fill="#00bfff"/>
<rect x="98" y="703" width="2" height="2" fill="#ffb6c1"/>
<rect x="98" y="708" width="2" height="2" fill="#00bfff"/>
<rect x="98" y="712" width="2" height="4" fill="#ffb6c1"/>
<rect x="98" y="718" width="2" height="1" fill="#00bfff"/>
<rect x="98" y="719" width="2" height="2" fill="#ff0000"/>
<rect x="98" y="721" width="2" height="2" fill="#00bfff"/>
<rect x="98" y="723" width="2" height="2" fill="#ffb6c1"/>
<rect x="98" y="727" width="2" height="2" fill="#00bfff"/>
<rect x="98" y="732" width="2" height="2" fill="#ba55d3"/>
<rect x="100" y="719" width="2" height="2" fill="#ffd700"/>
<rect x="100" y="729" width="2" height="2" fill="#ffd700"/>
<rect x="105" y="706" width="2" height="2" fill="#00bfff"/>
<rect x="105" y="719" width="2" height="4" fill="#00bfff"/>
<rect x="119" y="706" width="3" height="2" fill="#ffb6c1"/>
<rect x="124" y="710" width="2" height="2" fill="#ff0000"/>
<rect x="126" y="712" width="2" height="2" fill="#ffb6c1"/>
<rect x="119" y="712" width="3" height="2" fill="#00ffff"/>
<rect x="117" y="714" width="2" height="2" fill="#00ffff"/>
<rect x="119" y="716" width="3" height="2" fill="#3c3cff"/>
<rect x="119" y="718" width="3" height="1" fill="#ff0000"/>
<rect x="119" y="719" width="3" height="2" fill="#ffb6c1"/>
<rect x="115" y="718" width="2" height="1" fill="#00ffff"/>
<rect x="122" y="719" width="2" height="2" fill="#ff0000"/>
<rect x="122" y="718" width="4" height="1" fill="#ffb6c1"/>
<rect x="124" y="719" width="10" height="2" fill="#ffb6c1"/>
<rect x="126" y="718" width="2" height="1" fill="#ff0000"/>
<rect x="126" y="716" width="5" height="2" fill="#00ffff"/>
<rect x="128" y="718" width="3" height="1" fill="#00bfff"/>
<rect x="131" y="716" width="3" height="2" fill="#ff0000"/>
<rect x="131" y="718" width="3" height="1" fill="#00ffff"/>
<rect x="134" y="716" width="2" height="3" fill="#ffb6c1"/>
<rect x="134" y="714" width="2" height="2" fill="#00ffff"/>
<rect x="136" y="710" width="1" height="2" fill="#00ffff"/>
<rect x="136" y="712" width="1" height="2" fill="#ffd700"/>
<rect x="137" y="708" width="3" height="2" fill="#ffb6c1"/>
<rect x="137" y="712" width="3" height="4" fill="#ff0000"/>
<rect x="136" y="716" width="1" height="2" fill="#ffd700"/>
<rect x="139" y="718" width="1" height="1" fill="#ffd700"/>
<rect x="137" y="718" width="1" height="1" fill="#ff0000"/>
<rect x="137" y="719" width="3" height="2" fill="#ba55d3"/>
<rect x="140" y="710" width="3" height="2" fill="#ffb6c1"/>
<rect x="140" y="712" width="6" height="2" fill="#ffb6c1"/>
<rect x="140" y="714" width="3" height="2" fill="#00bfff"/>
<rect x="143" y="714" width="3" height="2" fill="#00ffff"/>
<rect x="140" y="716" width="3" height="2" fill="#00ffff"/>
<rect x="143" y="716" width="3" height="2" fill="#ffb6c1"/>
<rect x="146" y="714" width="4" height="4" fill="#ffb6c1"/>
<rect x="146" y="718" width="4" height="1" fill="#ff0000"/>
<rect x="146" y="719" width="4" height="2" fill="#00ffff"/>
<rect x="140" y="718" width="3" height="1" fill="#ffb6c1"/>
<rect x="143" y="700" width="3" height="1" fill="#ffb6c1"/>
<rect x="117" y="736" width="2" height="2" fill="#ffb6c1"/>
<rect x="153" y="700" width="3" height="1" fill="#ffb6c1"/>
<rect x="150" y="716" width="2" height="2" fill="#ffb6c1"/>
<rect x="150" y="718" width="3" height="1" fill="#ff0000"/>
<rect x="156" y="716" width="2" height="2" fill="#ffb6c1"/>
<rect x="158" y="718" width="3" height="1" fill="#ffb6c1"/>
<rect x="350" y="690" width="6" height="2" fill="#ffb6c1"/>
<rect x="361" y="690" width="4" height="3" fill="#ffb6c1"/>
<rect x="369" y="688" width="4" height="2" fill="#ffb6c1"/>
<rect x="402" y="686" width="5" height="4" fill="#008000"/>
<rect x="402" y="690" width="5" height="2" fill="#ff0000"/>
<rect x="431" y="684" width="10" height="4" fill="#ff0000"/>
<rect x="431" y="688" width="10" height="2" fill="#008000"/>
<rect x="451" y="688" width="9" height="4" fill="#ff0000"/>
<rect x="451" y="692" width="9" height="1" fill="#008000"/>
<rect x="350" y="736" width="6" height="2" fill="#ba55d3"/>
<rect x="482" y="679" width="7" height="1" fill="#ff0000"/>
<rect x="482" y="680" width="7" height="2" fill="#ffb6c1"/>
<rect x="482" y="684" width="7" height="2" fill="#ffb6c1"/>
<rect x="482" y="686" width="7" height="2" fill="#ff0000"/>
<rect x="482" y="688" width="7" height="2" fill="#008000"/>
<rect x="482" y="690" width="7" height="2" fill="#ff0000"/>
<rect x="482" y="692" width="7" height="1" fill="#ba55d3"/>
<rect x="489" y="680" width="4" height="4" fill="#ff0000"/>
<rect x="498" y="664" width="5" height="2" fill="#ff0000"/>
<rect x="498" y="673" width="5" height="2" fill="#ff0000"/>
<rect x="498" y="692" width="5" height="1" fill="#ff0000"/>
<rect x="498" y="719" width="5" height="2" fill="#ff0000"/>
<rect x="498" y="729" width="5" height="2" fill="#ff0000"/>
<rect x="510" y="718" width="7" height="1" fill="#008000"/>
<rect x="524" y="680" width="6" height="2" fill="#ffb6c1"/>
<rect x="524" y="692" width="6" height="1" fill="#008000"/>
<rect x="537" y="677" width="7" height="2" fill="#008000"/>
<rect x="557" y="677" width="7" height="2" fill="#00ffff"/>
<rect x="577" y="677" width="6" height="2" fill="#00ffff"/>
<rect x="544" y="679" width="7" height="1" fill="#ffd700"/>
<rect x="551" y="679" width="6" height="1" fill="#3c3cff"/>
<rect x="557" y="679" width="20" height="1" fill="#ff0000"/>
<rect x="577" y="679" width="6" height="3" fill="#ff0000"/>
<rect x="537" y="680" width="34" height="2" fill="#ff0000"/>
<rect x="537" y="682" width="14" height="2" fill="#ff0000"/>
<rect x="551" y="682" width="13" height="2" fill="#ffd700"/>
<rect x="564" y="682" width="7" height="2" fill="#008000"/>
<rect x="537" y="684" width="46" height="2" fill="#ff0000"/>
<rect x="537" y="686" width="7" height="2" fill="#008000"/>
<rect x="544" y="686" width="13" height="2" fill="#ff0000"/>
<rect x="564" y="686" width="7" height="2" fill="#008000"/>
<rect x="571" y="686" width="6" height="2" fill="#ff0000"/>
<rect x="577" y="686" width="6" height="2" fill="#00ffff"/>
<rect x="537" y="688" width="7" height="2" fill="#ff0000"/>
<rect x="551" y="688" width="6" height="2" fill="#008000"/>
<rect x="557" y="688" width="14" height="2" fill="#ff0000"/>
<rect x="571" y="688" width="6" height="4" fill="#3c3cff"/>
<rect x="577" y="688" width="6" height="5" fill="#ff0000"/>
<rect x="537" y="690" width="7" height="2" fill="#008000"/>
<rect x="544" y="690" width="13" height="2" fill="#ff0000"/>
<rect x="557" y="690" width="7" height="2" fill="#008000"/>
<rect x="537" y="692" width="14" height="1" fill="#ff0000"/>
<rect x="564" y="692" width="13" height="1" fill="#ff0000"/>
<rect x="537" y="693" width="7" height="2" fill="#ff0000"/>
<rect x="544" y="693" width="7" height="2" fill="#008000"/>
<rect x="551" y="693" width="6" height="2" fill="#ff0000"/>
<rect x="557" y="693" width="7" height="2" fill="#008000"/>
<rect x="564" y="693" width="13" height="2" fill="#ff0000"/>
<rect x="577" y="693" width="6" height="2" fill="#ffd700"/>
<rect x="611" y="677" width="12" height="5" fill="#ff0000"/>
<rect x="623" y="679" width="14" height="3" fill="#ff0000"/>
<rect x="611" y="686" width="12" height="2" fill="#ff0000"/>
<rect x="611" y="693" width="12" height="2" fill="#008000"/>
<rect x="661" y="690" width="12" height="3" fill="#ff0000"/>
<rect x="637" y="708" width="24" height="4" fill="#008000"/>
<rect x="650" y="712" width="11" height="2" fill="#ff0000"/>
<rect x="611" y="716" width="12" height="3" fill="#ffd700"/>
<rect x="694" y="716" width="11" height="2" fill="#ffb6c1"/>
<rect x="694" y="723" width="11" height="2" fill="#ba55d3"/>
<rect x="604" y="736" width="7" height="2" fill="#ff0000"/>
<rect x="623" y="736" width="14" height="2" fill="#ffd700"/>
<rect x="498" y="487" width="5" height="2" fill="#ff0000"/>
<rect x="510" y="513" width="7" height="2" fill="#008000"/>
<rect x="510" y="523" width="7" height="1" fill="#008000"/>
<rect x="510" y="532" width="7" height="2" fill="#00ffff"/>
<rect x="498" y="543" width="5" height="2" fill="#ff0000"/>
<rect x="583" y="558" width="6" height="2" fill="#ffb6c1"/>
<rect x="510" y="597" width="7" height="2" fill="#008000"/>
<rect x="498" y="636" width="5" height="2" fill="#ff0000"/>
<rect x="498" y="654" width="5" height="2" fill="#ff0000"/>
<rect x="746" y="486" width="22" height="1" fill="#ff0000"/>
</g>
<g stroke="#b0b0b0" stroke-width="1" shape-rendering="crispEdges">
<line x1="138.5" y1="100.5" x2="138.5" y2="793.5"/>
<line x1="230.5" y1="100.5" x2="230.5" y2="793.5"/>
<line x1="323.5" y1="100.5" x2="323.5" y2="793.5"/>
<line x1="415.5" y1="100.5" x2="415.5" y2="793.5"/>
<line x1="508.5" y1="100.5" x2="508.5" y2="793.5"/>
<line x1="600.5" y1="100.5" x2="600.5" y2="793.5"/>
<line x1="692.5" y1="100.5" x2="692.5" y2="793.5"/>
<line x1="92.5" y1="669.5" x2="785.5" y2="669.5"/>
<line x1="92.5" y1="545.5" x2="785.5" y2="545.5"/>
<line x1="92.5" y1="421.5" x2="785.5" y2="421.5"/>
<line x1="92.5" y1="298.5" x2="785.5" y2="298.5"/>
<line x1="92.5" y1="174.5" x2="785.5" y2="174.5"/>
</g>
<g stroke="#000" stroke-width="1" shape-rendering="crispEdges">
<line x1="92.5" y1="793.5" x2="92.5" y2="797.0"/>
<line x1="115.5" y1="793.5" x2="115.5" y2="797.0"/>
<line x1="138.5" y1="793.5" x2="138.5" y2="799.0"/>
<line x1="161.5" y1="793.5" x2="161.5" y2="797.0"/>
<line x1="184.5" y1="793.5" x2="184.5" y2="797.0"/>
<line x1="207.5" y1="793.5" x2="207.5" y2="797.0"/>
<line x1="230.5" y1="793.5" x2="230.5" y2="799.0"/>
<line x1="254.5" y1="793.5" x2="254.5" y2="797.0"/>
<line x1="277.5" y1="793.5" x2="277.5" y2="797.0"/>
<line x1="300.5" y1="793.5" x2="300.5" y2="797.0"/>
<line x1="323.5" y1="793.5" x2="323.5" y2="799.0"/>
<line x1="346.5" y1="793.5" x2="346.5" y2="797.0"/>
<line x1="369.5" y1="793.5" x2="369.5" y2="797.0"/>
<line x1="392.5" y1="793.5" x2="392.5" y2="797.0"/>
<line x1="415.5" y1="793.5" x2="415.5" y2="799.0"/>
<line x1="438.5" y1="793.5" x2="438.5" y2="797.0"/>
<line x1="461.5" y1="793.5" x2="461.5" y2="797.0"/>
<line x1="484.5" y1="793.5" x2="484.5" y2="797.0"/>
<line x1="508.5" y1="793.5" x2="508.5" y2="799.0"/>
<line x1="531.5" y1="793.5" x2="531.5" y2="797.0"/>
<line x1="554.5" y1="793.5" x2="554.5" y2="797.0"/>
<line x1="577.5" y1="793.5" x2="577.5" y2="797.0"/>
<line x1="600.5" y1="793.5" x2="600.5" y2="799.0"/>
<line x1="623.5" y1="793.5" x2="623.5" y2="797.0"/>
<line x1="646.5" y1="793.5" x2="646.5" y2="797.0"/>
<line x1="669.5" y1="793.5" x2="669.5" y2="797.0"/>
<line x1="692.5" y1="793.5" x2="692.5" y2="799.0"/>
<line x1="715.5" y1="793.5" x2="715.5" y2="797.0"/>
<line x1="738.5" y1="793.5" x2="738.5" y2="797.0"/>
<line x1="761.5" y1="793.5" x2="761.5" y2="797.0"/>
<line x1="785.5" y1="793.5" x2="785.5" y2="799.0"/>
<line x1="87.0" y1="793.5" x2="92.5" y2="793.5"/>
<line x1="89.0" y1="762.5" x2="92.5" y2="762.5"/>
<line x1="89.0" y1="731.5" x2="92.5" y2="731.5"/>
<line x1="89.0" y1="700.5" x2="92.5" y2="700.5"/>
<line x1="87.0" y1="669.5" x2="92.5" y2="669.5"/>
<line x1="89.0" y1="638.5" x2="92.5" y2="638.5"/>
<line x1="89.0" y1="607.5" x2="92.5" y2="607.5"/>
<line x1="89.0" y1="576.5" x2="92.5" y2="576.5"/>
<line x1="87.0" y1="545.5" x2="92.5" y2="545.5"/>
<line x1="89.0" y1="514.5" x2="92.5" y2="514.5"/>
<line x1="89.0" y1="483.5" x2="92.5" y2="483.5"/>
<line x1="89.0" y1="452.5" x2="92.5" y2="452.5"/>
<line x1="87.0" y1="421.5" x2="92.5" y2="421.5"/>
<line x1="89.0" y1="390.5" x2="92.5" y2="390.5"/>
<line x1="89.0" y1="360.5" x2="92.5" y2="360.5"/>
<line x1="89.0" y1="329.5" x2="92.5" y2="329.5"/>
<line x1="87.0" y1="298.5" x2="92.5" y2="298.5"/>
<line x1="89.0" y1="267.5" x2="92.5" y2="267.5"/>
<line x1="89.0" y1="236.5" x2="92.5" y2="236.5"/>
<line x1="89.0" y1="205.5" x2="92.5" y2="205.5"/>
<line x1="87.0" y1="174.5" x2="92.5" y2="174.5"/>
<line x1="89.0" y1="143.5" x2="92.5" y2="143.5"/>
<line x1="89.0" y1="112.5" x2="92.5" y2="112.5"/>
</g>
<rect x="92.5" y="100.5" width="693.0" height="693.0" fill="none" stroke="#000" stroke-width="1" shape-rendering="crispEdges"/>
<text class="t" x="138.2" y="815" text-anchor="middle">2</text>
<text class="t" x="230.6" y="815" text-anchor="middle">4</text>
<text class="t" x="322.9" y="815" text-anchor="middle">6</text>
<text class="t" x="415.3" y="815" text-anchor="middle">8</text>
<text class="t" letter-spacing="-0.8" x="507.8" y="815" text-anchor="middle">10</text>
<text class="t" letter-spacing="-0.8" x="600.2" y="815" text-anchor="middle">12</text>
<text class="t" letter-spacing="-0.8" x="692.5" y="815" text-anchor="middle">14</text>
<text class="t" letter-spacing="-0.8" x="784.9" y="815" text-anchor="middle">16</text>
<text class="t" x="82.7" y="798.9" text-anchor="end">0</text>
<text class="t" x="81.2" y="674.9" text-anchor="end">200</text>
<text class="t" x="82.2" y="551.9" text-anchor="end">400</text>
<text class="t" x="81.1" y="427.9" text-anchor="end">600</text>
<text class="t" x="81.1" y="303.9" text-anchor="end">800</text>
<text class="t" x="81.6" y="179.9" text-anchor="end">1000</text>
<text class="l" x="437.4" y="841.7" text-anchor="middle">Frequency (MHz)</text>
<text class="l" style="font-size:23.93px" transform="translate(28.3 447.55) rotate(-90)" text-anchor="middle">Virtual height (km)</text>
<text class="h" x="426.2" y="31.7" text-anchor="middle">NAL CADI - Sep 11 17:45:06 2021 UTC</text>
<g shape-rendering="crispEdges">
<rect x="816.55" y="82.45" width="30.10" height="89.55" fill="#00bfff"/>
<rect x="816.55" y="172" width="30.10" height="90.00" fill="#00ffff"/>
<rect x="816.55" y="262" width="30.10" height="90.00" fill="#ffd700"/>
<rect x="816.55" y="352" width="30.10" height="90.00" fill="#ffb6c1"/>
<rect x="816.55" y="442" width="30.10" height="90.00" fill="#ba55d3"/>
<rect x="816.55" y="532" width="30.10" height="90.00" fill="#3c3cff"/>
<rect x="816.55" y="622" width="30.10" height="90.00" fill="#ff0000"/>
<rect x="816.55" y="712" width="30.10" height="90.20" fill="#008000"/>
</g>
<g stroke="#000" stroke-width="1" shape-rendering="crispEdges">
<line x1="847" y1="82.5" x2="850" y2="82.5"/>
<line x1="847" y1="172.5" x2="850" y2="172.5"/>
<line x1="847" y1="262.5" x2="850" y2="262.5"/>
<line x1="847" y1="352.5" x2="850" y2="352.5"/>
<line x1="847" y1="442.5" x2="850" y2="442.5"/>
<line x1="847" y1="532.5" x2="850" y2="532.5"/>
<line x1="847" y1="622.5" x2="850" y2="622.5"/>
<line x1="847" y1="712.5" x2="850" y2="712.5"/>
<line x1="847" y1="802.5" x2="850" y2="802.5"/>
<line x1="847" y1="127.5" x2="852" y2="127.5"/>
<line x1="847" y1="217.5" x2="852" y2="217.5"/>
<line x1="847" y1="307.5" x2="852" y2="307.5"/>
<line x1="847" y1="397.5" x2="852" y2="397.5"/>
<line x1="847" y1="487.5" x2="852" y2="487.5"/>
<line x1="847" y1="577.5" x2="852" y2="577.5"/>
<line x1="847" y1="667.5" x2="852" y2="667.5"/>
<line x1="847" y1="757.5" x2="852" y2="757.5"/>
</g>
<rect x="816.55" y="82.45" width="30.10" height="719.75" fill="none" stroke="#000" stroke-width="1.1"/>
<text class="t" letter-spacing="-0.17" x="855.8" y="133.0">NNE</text>
<text class="t" letter-spacing="-0.17" x="855.8" y="223.0">E</text>
<text class="t" letter-spacing="-0.17" x="855.8" y="313.0">SSE</text>
<text class="t" letter-spacing="-0.17" x="855.8" y="402.9">SSW</text>
<text class="t" letter-spacing="-0.17" x="855.8" y="492.9">W</text>
<text class="t" letter-spacing="-0.17" x="855.8" y="582.9">NNW</text>
<text class="t" letter-spacing="-0.17" x="855.8" y="672.8">Vertical</text>
<text class="t" letter-spacing="-0.17" x="855.8" y="762.8">X-mode</text>
<text class="l" style="font-size:23.9px" transform="translate(943 442.93) rotate(-90)" text-anchor="middle">Azimuth Direction</text>
</svg></body></html>
